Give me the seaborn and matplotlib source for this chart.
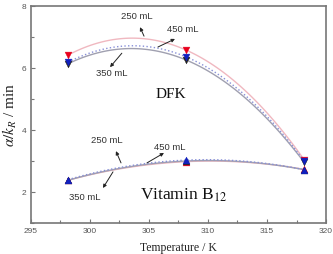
import numpy as np
import pandas as pd
import matplotlib
matplotlib.use("Agg")
import matplotlib.pyplot as plt
import seaborn as sns
from matplotlib.ticker import MultipleLocator

temps = [298.15, 308.15, 318.15]
volumes = ["250 mL", "350 mL", "450 mL"]
dfk_250 = [6.42, 6.58, 3.04]
dfk_350 = [6.14, 6.26, 2.96]
dfk_450 = [6.19, 6.36, 3.00]
b12_250 = [2.38, 2.98, 2.73]
b12_350 = [2.38, 3.00, 2.72]
b12_450 = [2.40, 3.03, 2.72]

sns.set_theme(style="white")
plt.rcParams["font.family"] = ["Liberation Sans", "DejaVu Sans"]
plt.rcParams["mathtext.fontset"] = "stix"

fig, ax = plt.subplots(figsize=(3.33, 2.54), dpi=100)
fig.subplots_adjust(left=0.093, right=0.979, top=0.976, bottom=0.122)

colors = {"250 mL": "#e8001c", "350 mL": "#222222", "450 mL": "#1020c0"}
line_colors = {"250 mL": "#f0b8c0", "350 mL": "#a0a0b0", "450 mL": "#8890d8"}
line_styles = {"250 mL": "-", "350 mL": "-", "450 mL": ":"}

series = {
    "DFK": {"250 mL": dfk_250, "350 mL": dfk_350, "450 mL": dfk_450},
    "B12": {"250 mL": b12_250, "350 mL": b12_350, "450 mL": b12_450},
}
markers = {"DFK": "v", "B12": "^"}

xs = np.linspace(temps[0], temps[-1], 100)
for comp, d in series.items():
    for vol in volumes:
        ys = d[vol]
        coef = np.polyfit(temps, ys, 2)
        fit = pd.DataFrame({"T": xs, "v": np.polyval(coef, xs)})
        sns.lineplot(data=fit, x="T", y="v", ax=ax, color=line_colors[vol],
                     linestyle=line_styles[vol], linewidth=1.0, legend=False)
    for vol in volumes:
        pts = pd.DataFrame({"T": temps, "v": d[vol]})
        sns.scatterplot(data=pts, x="T", y="v", ax=ax, marker=markers[comp],
                        color=colors[vol], s=24, edgecolor=colors[vol],
                        linewidth=0.3, zorder=5, legend=False)

ax.set_xlim(295, 320)
ax.set_ylim(1, 8)
ax.xaxis.set_major_locator(MultipleLocator(5))
ax.xaxis.set_minor_locator(MultipleLocator(2.5))
ax.yaxis.set_major_locator(MultipleLocator(2))
ax.yaxis.set_minor_locator(MultipleLocator(1))
ax.tick_params(which="both", direction="in", bottom=True, left=True,
               colors="#777777", labelsize=6, labelcolor="#555555")
ax.tick_params(which="major", length=3, width=0.8)
ax.tick_params(which="minor", length=2, width=0.8)
for sp in ax.spines.values():
    sp.set_color("#777777")
    sp.set_linewidth(1.2)

ax.set_xlabel("Temperature / K", family="Liberation Serif", fontsize=8.5,
              color="#222222", labelpad=5)
ax.set_ylabel(r"$\alpha/k_R$ / min", family="Liberation Serif", fontsize=11,
              color="#222222", labelpad=2)

arrow = dict(arrowstyle="-|>", color="#222222", lw=0.7, mutation_scale=5,
             shrinkA=0, shrinkB=0)
tkw = dict(fontsize=6.8, ha="center", va="center", color="#333333")

# DFK annotations
ax.text(303.98, 7.65, "250 mL", **tkw)
ax.annotate("", xy=(304.24, 7.32), xytext=(304.58, 7.03), arrowprops=arrow)
ax.text(307.9, 7.26, "450 mL", **tkw)
ax.annotate("", xy=(307.2, 6.94), xytext=(305.76, 6.68), arrowprops=arrow)
ax.text(301.86, 5.84, "350 mL", **tkw)
ax.annotate("", xy=(301.7, 6.03), xytext=(302.7, 6.48), arrowprops=arrow)
ax.text(306.86, 5.16, "DFK", family="Liberation Serif", fontsize=11,
        ha="center", va="center", color="#111111")

# Vitamin B12 annotations
ax.text(301.44, 3.65, "250 mL", **tkw)
ax.annotate("", xy=(302.2, 3.32), xytext=(302.63, 2.94), arrowprops=arrow)
ax.text(306.8, 3.45, "450 mL", **tkw)
ax.annotate("", xy=(306.27, 3.26), xytext=(304.83, 2.94), arrowprops=arrow)
ax.text(299.58, 1.81, "350 mL", **tkw)
ax.annotate("", xy=(301.1, 2.13), xytext=(301.95, 2.65), arrowprops=arrow)
ax.text(307.9, 1.9, r"Vitamin B$_{12}$", family="Liberation Serif",
        fontsize=12.5, ha="center", va="center", color="#111111")

fig.savefig("out.png", dpi=100)
